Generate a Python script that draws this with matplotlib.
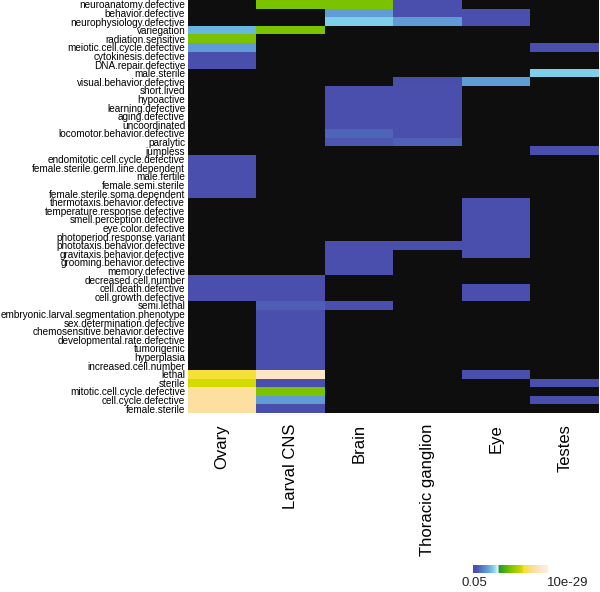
import numpy as np
import matplotlib.pyplot as plt
from matplotlib.colors import LinearSegmentedColormap

# phenotype terms (rows) and tissues (columns)
phenotypes = [
    "neuroanatomy.defective", "behavior.defective", "neurophysiology.defective",
    "variegation", "radiation.sensitive", "meiotic.cell.cycle.defective",
    "cytokinesis.defective", "DNA.repair.defective", "male.sterile",
    "visual.behavior.defective", "short.lived", "hypoactive", "learning.defective",
    "aging.defective", "uncoordinated", "locomotor.behavior.defective", "paralytic",
    "jumpless", "endomitotic.cell.cycle.defective", "female.sterile.germ.line.dependent",
    "male.fertile", "female.semi.sterile", "female.sterile.soma.dependent",
    "thermotaxis.behavior.defective", "temperature.response.defective",
    "smell.perception.defective", "eye.color.defective", "photoperiod.response.variant",
    "phototaxis.behavior.defective", "gravitaxis.behavior.defective",
    "grooming.behavior.defective", "memory.defective", "decreased.cell.number",
    "cell.death.defective", "cell.growth.defective", "semi.lethal",
    "embryonic.larval.segmentation.phenotype", "sex.determination.defective",
    "chemosensitive.behavior.defective", "developmental.rate.defective", "tumorigenic",
    "hyperplasia", "increased.cell.number", "lethal", "sterile",
    "mitotic.cell.cycle.defective", "cell.cycle.defective", "female.sterile",
]
tissues = ["Ovary", "Larval CNS", "Brain", "Thoracic ganglion", "Eye", "Testes"]

n = np.nan
# -log10(p) per tissue, nan = not significant
ovary = [n, n, n, 7.4, 14.6, 6.1, 2.0, 2.0, n, n, n, n, n, n, n, n, n, n,
         2.0, 2.0, 2.0, 2.0, 2.0, n, n, n, n, n, n, n, n, n, 2.0, 2.0, 2.0, n,
         n, n, n, n, n, n, n, 19.5, 18.9, 22.7, 22.7, 22.7]
larval_cns = [14.6, n, n, 14.6, n, n, n, n, n, n, n, n, n, n, n, n, n, n,
              n, n, n, n, n, n, n, n, n, n, n, n, n, n, 2.0, 2.0, 2.0, 3.0,
              2.0, 2.0, 2.0, 2.0, 2.0, 2.0, 2.0, 25.3, 2.0, 14.6, 6.1, 2.0]
brain = [14.6, 6.1, 8.5, n, n, n, n, n, n, n, 2.0, 2.0, 2.0, 2.0, 2.0, 3.4, 2.6, n,
         n, n, n, n, n, n, n, n, n, n, 2.0, 2.0, 2.0, 2.0, n, n, n, 2.0,
         n, n, n, n, n, n, n, n, n, n, n, n]
thoracic = [2.0, 2.0, 6.1, n, n, n, n, n, n, 1.9, 2.0, 2.0, 2.0, 2.0, 2.0, 2.0, 3.2, n,
            n, n, n, n, n, n, n, n, n, n, 2.0, n, n, n, n, n, n, n,
            n, n, n, n, n, n, n, n, n, n, n, n]
eye = [n, 2.0, 2.0, n, n, n, n, n, n, 6.1, n, n, n, n, n, n, n, n,
       n, n, n, n, n, 2.0, 2.0, 2.0, 2.0, 2.0, 2.0, 2.0, n, n, n, 2.0, 2.0, n,
       n, n, n, n, n, n, n, 2.0, n, n, n, n]
testes = [n, n, n, n, n, 2.0, n, n, 8.5, n, n, n, n, n, n, n, n, 2.0,
          n, n, n, n, n, n, n, n, n, n, n, n, n, n, n, n, n, n,
          n, n, n, n, n, n, n, n, 2.0, n, 2.0, n]

vmin, vmax = 1.3, 28.0  # p = 0.05 ... 10e-29

cmap = LinearSegmentedColormap.from_list("pheno", [
    (0.000, "#4a4ea8"), (0.030, "#4a4fae"), (0.080, "#4f66b8"),
    (0.180, "#5f9bd4"), (0.230, "#6cb8e2"), (0.270, "#80cfea"),
    (0.325, "#dcecf8"), (0.335, "#ffffff"), (0.345, "#1f9a2a"),
    (0.500, "#7dc400"), (0.660, "#d4dc00"), (0.670, "#f5e22a"),
    (0.800, "#fddf9e"), (0.900, "#fde6c4"), (1.000, "#fdf2e0"),
])
cmap.set_bad("#0e0e0e")

data = np.ma.masked_invalid(np.column_stack([ovary, larval_cns, brain, thoracic, eye, testes]))

plt.rcParams['font.family'] = ['Liberation Sans', 'DejaVu Sans']
fig = plt.figure(figsize=(6.0, 5.92), dpi=100)
ax = fig.add_axes([188 / 600, 1 - 413 / 592, 411 / 600, 413 / 592])
ax.imshow(data, cmap=cmap, vmin=vmin, vmax=vmax, aspect='auto', interpolation='nearest')

ax.set_yticks(range(len(phenotypes)))
ax.set_yticklabels(phenotypes, fontsize=7.2)
ax.set_xticks(range(len(tissues)))
ax.set_xticklabels(tissues, fontsize=12, rotation=90, va='top')
ax.tick_params(length=0)
ax.tick_params(axis='y', pad=2)
ax.tick_params(axis='x', pad=8)
for s in ax.spines.values():
    s.set_visible(False)

# small colour key
cax = fig.add_axes([473 / 600, 1 - 573 / 592, 75 / 600, 8 / 592])
cax.imshow(np.linspace(0, 1, 256)[None, :], cmap=cmap, aspect='auto')
cax.axis('off')
fig.text(474 / 600, 1 - 583 / 592, "0.05", ha='center', va='center', fontsize=9.5, color='#222222')
fig.text(568 / 600, 1 - 583 / 592, "10e-29", ha='center', va='center', fontsize=9.5, color='#222222')

fig.savefig("out.png", dpi=100)
